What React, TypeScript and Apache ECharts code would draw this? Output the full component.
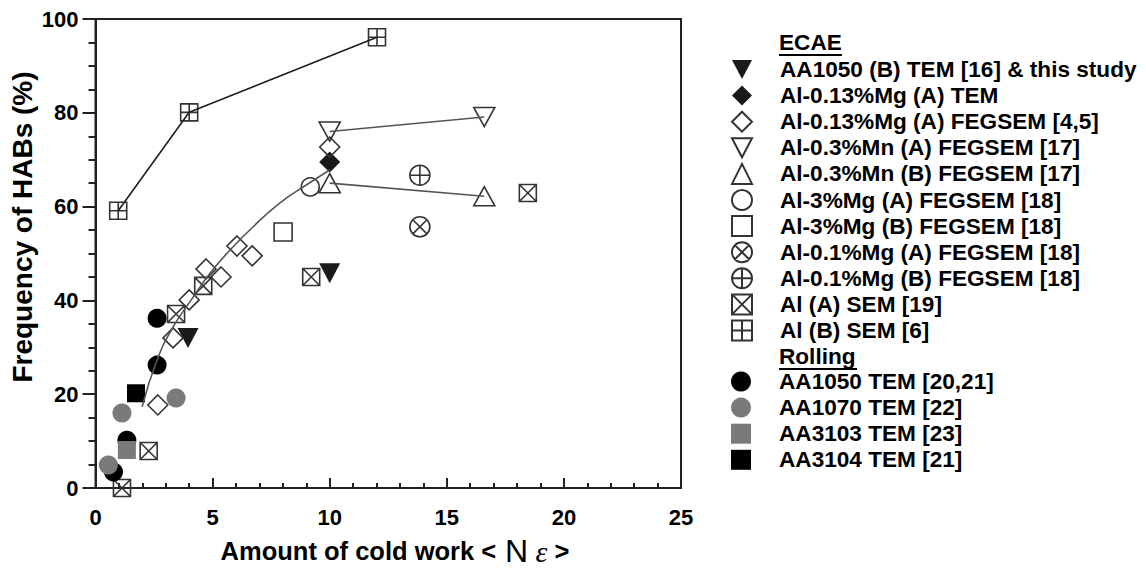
import { useEffect, useRef } from "react";
import * as echarts from "echarts";

// ECAE data sets: [amount of cold work, frequency of HABs %]
const aa1050B: [number, number][] = [[3.95, 32.0], [10.0, 45.8]];
const mg013TEM: [number, number][] = [[10.0, 69.5]];
const mg013FEG: [number, number][] = [
  [2.66, 17.7], [3.31, 32.0], [4.0, 40.1], [4.72, 46.7], [5.36, 45.0],
  [6.04, 51.6], [6.69, 49.5], [10.0, 72.7],
];
const mn03A: [number, number][] = [[10.0, 76.0], [16.6, 79.1]];
const mn03B: [number, number][] = [[10.0, 65.0], [16.6, 62.2]];
const mg3A: [number, number][] = [[9.17, 64.2]];
const mg3B: [number, number][] = [[8.01, 54.6]];
const mg01A: [number, number][] = [[13.85, 55.7]];
const mg01B: [number, number][] = [[13.85, 66.7]];
const alA: [number, number][] = [
  [1.13, 0.0], [2.27, 7.9], [3.44, 37.1], [4.6, 43.1], [9.21, 45.0], [18.46, 62.9],
];
const alB: [number, number][] = [[0.97, 59.1], [4.0, 80.1], [12.02, 96.1]];

// Rolling data sets
const aa1050: [number, number][] = [[0.77, 3.4], [1.34, 10.2], [2.63, 26.2], [2.63, 36.2]];
const aa1070: [number, number][] = [[0.55, 4.9], [1.13, 16.0], [3.44, 19.2]];
const aa3103: [number, number][] = [[1.34, 8.1]];
const aa3104: [number, number][] = [[1.73, 20.2]];

// Trend curve through the ECAE points
const trendCurve: [number, number][] = [
  [1.99, 17.3], [2.63, 27.3], [3.31, 34.3], [4.17, 40.7], [4.89, 45.8],
  [5.74, 50.7], [6.73, 55.7], [7.88, 60.8], [9.0, 64.6], [10.0, 67.8],
];

const ecaeNames = [
  "AA1050 (B) TEM [16] & this study",
  "Al-0.13%Mg (A) TEM",
  "Al-0.13%Mg (A) FEGSEM [4,5]",
  "Al-0.3%Mn (A) FEGSEM [17]",
  "Al-0.3%Mn (B) FEGSEM [17]",
  "Al-3%Mg (A) FEGSEM [18]",
  "Al-3%Mg (B) FEGSEM [18]",
  "Al-0.1%Mg (A) FEGSEM [18]",
  "Al-0.1%Mg (B) FEGSEM [18]",
  "Al (A) SEM [19]",
  "Al (B) SEM [6]",
];
const rollingNames = [
  "AA1050 TEM [20,21]",
  "AA1070 TEM [22]",
  "AA3103 TEM [23]",
  "AA3104 TEM [21]",
];

const FONT = "'Liberation Sans', Arial, Helvetica, sans-serif";
const INK = "#1a1a1a";
const EDGE = "#333333";
const GREY = "#7a7a7a";
const NONE = "rgba(255,255,255,0)";

const SYM_TRI_DOWN = "path://M0,0L21,0L10.5,20Z";
const SYM_BOX_X = "path://M0,0L20,0L20,20L0,20ZM0,0L20,20M20,0L0,20";
const SYM_BOX_PLUS = "path://M0,0L20,0L20,20L0,20ZM10,0L10,20M0,10L20,10";
const SYM_CIRC_X =
  "path://M0,10A10,10,0,1,1,20,10A10,10,0,1,1,0,10ZM2.93,2.93L17.07,17.07M17.07,2.93L2.93,17.07";
const SYM_CIRC_PLUS =
  "path://M0,10A10,10,0,1,1,20,10A10,10,0,1,1,0,10ZM10,0L10,20M0,10L20,10";

function scatter(
  name: string,
  data: [number, number][],
  symbol: string,
  size: number | number[],
  fill: string,
  stroke: string,
  borderWidth = 1.6
) {
  return {
    type: "scatter",
    name,
    data,
    symbol,
    symbolSize: size,
    itemStyle: { color: fill, borderColor: stroke, borderWidth, opacity: 1 },
    z: 3,
    silent: true,
  };
}

function line(data: [number, number][], color: string, smooth = false) {
  return {
    type: "line",
    data,
    symbol: "none",
    smooth,
    lineStyle: { color, width: 1.6 },
    z: 4,
    silent: true,
  };
}

export default function App() {
  const ref = useRef<HTMLDivElement>(null);

  useEffect(() => {
    if (!ref.current) return;
    const chart = echarts.init(ref.current, undefined, { renderer: "svg" });

    const legendCommon = {
      orient: "vertical",
      left: 731,
      itemWidth: 20,
      itemHeight: 20,
      itemGap: 3.1,
      selectedMode: false,
      padding: 0,
      textStyle: {
        fontFamily: FONT,
        fontSize: 22.6,
        fontWeight: "bold",
        color: "#000",
        padding: [0, 0, 0, 23],
      },
    };

    chart.setOption({
      animation: false,
      backgroundColor: "#fff",
      textStyle: { fontFamily: FONT },
      grid: {
        left: 95.5,
        right: 465,
        top: 19,
        bottom: 85,
        show: true,
        borderColor: "#222",
        borderWidth: 2,
        containLabel: false,
        outerBoundsMode: "none",
      },
      legend: [
        { ...legendCommon, top: 58, data: ecaeNames },
        { ...legendCommon, top: 370, data: rollingNames },
      ],
      xAxis: {
        type: "value",
        min: 0,
        max: 25,
        interval: 5,
        axisLine: { show: true, lineStyle: { color: "#222", width: 2 } },
        axisTick: { show: true, inside: true, length: 10, lineStyle: { color: "#222", width: 2 } },
        minorTick: { show: true, splitNumber: 5, length: 5, lineStyle: { color: "#222", width: 2 } },
        splitLine: { show: false },
        axisLabel: {
          margin: 18,
          fontSize: 22,
          fontWeight: "bold",
          color: "#000",
          fontFamily: FONT,
        },
      },
      yAxis: {
        type: "value",
        min: 0,
        max: 100,
        interval: 20,
        axisLine: { show: true, lineStyle: { color: "#222", width: 2 } },
        axisTick: { show: true, inside: false, length: 13, lineStyle: { color: "#222", width: 2 } },
        minorTick: { show: true, splitNumber: 4, length: 7, lineStyle: { color: "#222", width: 2 } },
        splitLine: { show: false },
        axisLabel: {
          margin: 17,
          fontSize: 22,
          fontWeight: "bold",
          color: "#000",
          fontFamily: FONT,
        },
      },
      graphic: [
        {
          type: "text",
          x: 22,
          y: 227,
          rotation: Math.PI / 2,
          style: {
            text: "Frequency of HABs (%)",
            fontFamily: FONT,
            fontSize: 28,
            fontWeight: "bold",
            fill: "#000",
            align: "center",
            verticalAlign: "middle",
          },
        },
        {
          type: "text",
          x: 395,
          y: 551,
          style: {
            text: "{a|Amount of cold work <}{n| N}{e| ε}{a| >}",
            align: "center",
            verticalAlign: "middle",
            rich: {
              a: { fontFamily: FONT, fontSize: 25.5, fontWeight: "bold", fill: "#000", color: "#000" },
              n: { fontFamily: FONT, fontSize: 32, fontWeight: "normal", fill: "#000", color: "#000" },
              e: {
                fontFamily: "'Liberation Serif', 'Times New Roman', serif",
                fontStyle: "italic",
                fontSize: 30,
                fill: "#000",
                color: "#000",
              },
            },
          },
        },
        {
          type: "text",
          x: 779,
          y: 42,
          style: {
            text: "ECAE",
            fontFamily: FONT,
            fontSize: 22.6,
            fontWeight: "bold",
            fill: "#000",
            align: "left",
            verticalAlign: "middle",
          },
        },
        {
          type: "line",
          shape: { x1: 779, y1: 55, x2: 842, y2: 55 },
          style: { stroke: "#000", lineWidth: 2 },
        },
        {
          type: "text",
          x: 779,
          y: 356,
          style: {
            text: "Rolling",
            fontFamily: FONT,
            fontSize: 22.6,
            fontWeight: "bold",
            fill: "#000",
            align: "left",
            verticalAlign: "middle",
          },
        },
        {
          type: "line",
          shape: { x1: 779, y1: 369, x2: 857, y2: 369 },
          style: { stroke: "#000", lineWidth: 2 },
        },
      ],
      series: [
        // connecting lines and trend curve
        line(alB, "#1f1f1f"),
        line(mn03A, "#555"),
        line(mn03B, "#555"),
        line(trendCurve, "#555", true),
        // ECAE
        scatter(ecaeNames[0], aa1050B, SYM_TRI_DOWN, [21, 20], INK, INK, 0),
        scatter(ecaeNames[1], mg013TEM, "diamond", 21, INK, INK, 0),
        scatter(ecaeNames[2], mg013FEG, "diamond", 20, NONE, EDGE),
        scatter(ecaeNames[3], mn03A, SYM_TRI_DOWN, [21, 19], NONE, EDGE),
        scatter(ecaeNames[4], mn03B, "triangle", [21, 19], NONE, EDGE),
        scatter(ecaeNames[5], mg3A, "circle", 18, NONE, EDGE),
        scatter(ecaeNames[6], mg3B, "rect", 18, NONE, EDGE),
        scatter(ecaeNames[7], mg01A, SYM_CIRC_X, 20, NONE, EDGE),
        scatter(ecaeNames[8], mg01B, SYM_CIRC_PLUS, 20, NONE, EDGE),
        scatter(ecaeNames[9], alA, SYM_BOX_X, 17, NONE, EDGE),
        scatter(ecaeNames[10], alB, SYM_BOX_PLUS, 17, NONE, EDGE),
        // Rolling
        scatter(rollingNames[0], aa1050, "circle", 19, "#000", "#000", 0),
        scatter(rollingNames[1], aa1070, "circle", 19, GREY, GREY, 0),
        scatter(rollingNames[2], aa3103, "rect", 18, GREY, GREY, 0),
        scatter(rollingNames[3], aa3104, "rect", 18, "#000", "#000", 0),
      ],
    });

    return () => chart.dispose();
  }, []);

  return (
    <div
      ref={ref}
      style={{
        position: "fixed",
        left: 0,
        top: 0,
        width: 1146,
        height: 573,
        background: "#fff",
      }}
    />
  );
}
